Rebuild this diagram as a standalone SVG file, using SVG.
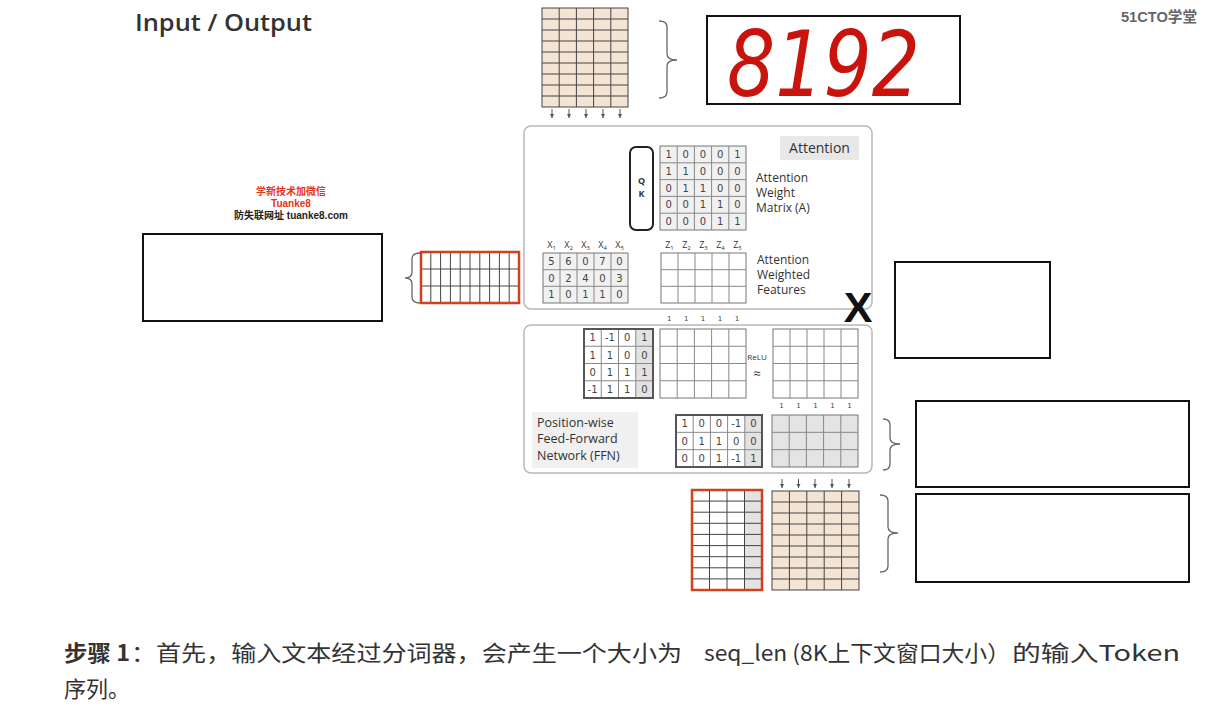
<svg xmlns="http://www.w3.org/2000/svg" width="1211" height="709" viewBox="0 0 1211 709">
<style>
.g{fill:none;stroke:#444;stroke-width:1}
.lbl{font-family:"Open Sans","DejaVu Sans",sans-serif;fill:#333}
.num{font-family:"DejaVu Sans",sans-serif;font-size:10px;fill:#444;text-anchor:middle}
.one{font-family:"DejaVu Sans",sans-serif;font-size:7px;fill:#444;text-anchor:middle}
.box{fill:#fff;stroke:#111;stroke-width:2}
.br{fill:none;stroke:#666;stroke-width:1.3}
.panel{fill:#fff;stroke:#b8b8b8;stroke-width:1.5}
.arr{stroke:#555;stroke-width:1;marker-end:url(#ah)}
.mat{fill:#f1f1f1;stroke:#777;stroke-width:1}
.emp{fill:#fff;stroke:#777;stroke-width:1}
.gl{fill:none;stroke:#888;stroke-width:1}
.red{fill:none;stroke:#d2401f;stroke-width:2.5}
.cn{font-family:"Noto Sans CJK SC",sans-serif;fill:#333}
</style>
<defs>
<marker id="ah" viewBox="0 0 6 6" refX="5" refY="3" markerWidth="5" markerHeight="5" orient="auto">
<path d="M0,0.5 L5,3 L0,5.5 Z" fill="#555"/>
</marker>
</defs>
<rect width="1211" height="709" fill="#fff"/>

<g id="title">
<text x="135" y="31" class="lbl" font-size="23" font-weight="600" fill="#222" textLength="177" lengthAdjust="spacingAndGlyphs">Input / Output</text>
</g>
<g id="logo">
<text x="1121" y="22" font-family="'Liberation Sans','Noto Sans CJK SC',sans-serif" font-size="15" font-weight="bold" fill="#666" textLength="76" lengthAdjust="spacingAndGlyphs">51CTO学堂</text>
</g>

<g id="watermark" font-family="'Liberation Sans','Noto Sans CJK SC',sans-serif" font-size="10" font-weight="bold" text-anchor="middle">
<text x="291" y="195" fill="#e8331c">学新技术加微信</text>
<text x="291" y="207" fill="#e8331c">Tuanke8</text>
<text x="291" y="219" fill="#222">防失联网址 tuanke8.com</text>
</g>

<g id="input-tokens">
<rect x="542" y="8" width="86" height="99" fill="#f3e4d4" stroke="#444"/>
<path class="g" d="M559.2,8V107M576.4,8V107M593.6,8V107M610.8,8V107M542,19H628M542,30H628M542,41H628M542,52H628M542,63H628M542,74H628M542,85H628M542,96H628"/>
</g>
<g id="box-8192">
<rect class="box" x="707" y="16" width="253" height="88"/>
<text x="727" y="96" font-family="'DejaVu Sans',sans-serif" font-style="italic" font-size="90" fill="#c8140c" textLength="193" lengthAdjust="spacingAndGlyphs">8192</text>
</g>

<g id="left-box"><rect class="box" x="143" y="234" width="239" height="87"/></g>
<g id="left-red-grid">
<rect x="421" y="252" width="98" height="51" fill="#fff"/>
<path class="g" d="M430.8,252V303M440.6,252V303M450.4,252V303M460.2,252V303M470,252V303M479.8,252V303M489.6,252V303M499.4,252V303M509.2,252V303M421,269H519M421,286H519"/>
<rect class="red" x="421" y="252" width="98" height="51"/>
</g>

<g id="attention-panel">
<rect class="panel" x="524" y="126" width="348" height="183" rx="7"/>
<rect x="780" y="136" width="79" height="24" fill="#e8e8e8"/>
<text x="819.5" y="153" class="lbl" font-size="14" text-anchor="middle">Attention</text>
</g>
<g id="qk">
<rect x="630" y="147" width="23" height="83" rx="6" fill="#fff" stroke="#222" stroke-width="2"/>
<text x="641.5" y="184" class="lbl" font-size="9" font-weight="bold" text-anchor="middle">Q</text>
<text x="641.5" y="197" class="lbl" font-size="9" font-weight="bold" text-anchor="middle">K</text>
</g>
<g id="matrix-a">
<rect class="mat" x="660" y="146" width="86" height="84"/>
<path class="gl" d="M677.2,146V230M694.4,146V230M711.6,146V230M728.8,146V230M660,162.8H746M660,179.6H746M660,196.4H746M660,213.2H746"/>
<g class="num">
<text x="668.6" y="158">1</text><text x="685.8" y="158">0</text><text x="703" y="158">0</text><text x="720.2" y="158">0</text><text x="737.4" y="158">1</text>
<text x="668.6" y="174.8">1</text><text x="685.8" y="174.8">1</text><text x="703" y="174.8">0</text><text x="720.2" y="174.8">0</text><text x="737.4" y="174.8">0</text>
<text x="668.6" y="191.6">0</text><text x="685.8" y="191.6">1</text><text x="703" y="191.6">1</text><text x="720.2" y="191.6">0</text><text x="737.4" y="191.6">0</text>
<text x="668.6" y="208.4">0</text><text x="685.8" y="208.4">0</text><text x="703" y="208.4">1</text><text x="720.2" y="208.4">1</text><text x="737.4" y="208.4">0</text>
<text x="668.6" y="225.2">0</text><text x="685.8" y="225.2">0</text><text x="703" y="225.2">0</text><text x="720.2" y="225.2">1</text><text x="737.4" y="225.2">1</text>
</g>
<g class="lbl" font-size="12"><text x="756" y="182">Attention</text><text x="756" y="197">Weight</text><text x="756" y="212">Matrix (A)</text></g>
</g>
<g id="matrix-x">
<g class="lbl" font-size="9" text-anchor="middle">
<text x="551.5" y="248">X<tspan font-size="6" dy="2">1</tspan></text>
<text x="568.5" y="248">X<tspan font-size="6" dy="2">2</tspan></text>
<text x="585.5" y="248">X<tspan font-size="6" dy="2">3</tspan></text>
<text x="602.5" y="248">X<tspan font-size="6" dy="2">4</tspan></text>
<text x="619.5" y="248">X<tspan font-size="6" dy="2">5</tspan></text>
</g>
<rect class="mat" x="543" y="253" width="85" height="50"/>
<path class="gl" d="M560,253V303M577,253V303M594,253V303M611,253V303M543,269.7H628M543,286.3H628"/>
<g class="num">
<text x="551.5" y="265">5</text><text x="568.5" y="265">6</text><text x="585.5" y="265">0</text><text x="602.5" y="265">7</text><text x="619.5" y="265">0</text>
<text x="551.5" y="281.7">0</text><text x="568.5" y="281.7">2</text><text x="585.5" y="281.7">4</text><text x="602.5" y="281.7">0</text><text x="619.5" y="281.7">3</text>
<text x="551.5" y="298.4">1</text><text x="568.5" y="298.4">0</text><text x="585.5" y="298.4">1</text><text x="602.5" y="298.4">1</text><text x="619.5" y="298.4">0</text>
</g>
</g>
<g id="matrix-z">
<g class="lbl" font-size="9" text-anchor="middle">
<text x="669.5" y="248">Z<tspan font-size="6" dy="2">1</tspan></text>
<text x="686.5" y="248">Z<tspan font-size="6" dy="2">2</tspan></text>
<text x="703.5" y="248">Z<tspan font-size="6" dy="2">3</tspan></text>
<text x="720.5" y="248">Z<tspan font-size="6" dy="2">4</tspan></text>
<text x="737.5" y="248">Z<tspan font-size="6" dy="2">5</tspan></text>
</g>
<rect class="emp" x="661" y="253" width="85" height="50"/>
<path class="gl" d="M678,253V303M695,253V303M712,253V303M729,253V303M661,269.7H746M661,286.3H746"/>
<g class="lbl" font-size="12"><text x="757" y="264">Attention</text><text x="757" y="279">Weighted</text><text x="757" y="294">Features</text></g>
</g>
<g id="times">
<text x="858" y="322" font-family="'Liberation Sans',sans-serif" font-size="43" font-weight="bold" fill="#111" text-anchor="middle">X</text>
</g>
<g id="ones-1" class="one">
<text x="669.3" y="321">1</text><text x="686.3" y="321">1</text><text x="703" y="321">1</text><text x="720" y="321">1</text><text x="737" y="321">1</text>
</g>

<g id="ffn-panel">
<rect class="panel" x="524" y="325" width="348" height="148" rx="7"/>
<rect x="532" y="412" width="106" height="56" fill="#f0f0f0"/>
<g class="lbl" font-size="12.5"><text x="537" y="427">Position-wise</text><text x="537" y="443">Feed-Forward</text><text x="537" y="460">Network (FFN)</text></g>
</g>
<g id="w1">
<rect x="584" y="329" width="69" height="69" fill="#fff"/>
<rect x="635.75" y="329" width="17.25" height="69" fill="#e2e2e2"/>
<path class="gl" d="M601.25,329V398M618.5,329V398M635.75,329V398M584,346.25H653M584,363.5H653M584,380.75H653"/>
<rect x="584" y="329" width="69" height="69" fill="none" stroke="#555" stroke-width="2"/>
<g class="num">
<text x="592.6" y="341.2">1</text><text x="609.9" y="341.2">-1</text><text x="627.1" y="341.2">0</text><text x="644.4" y="341.2">1</text>
<text x="592.6" y="358.5">1</text><text x="609.9" y="358.5">1</text><text x="627.1" y="358.5">0</text><text x="644.4" y="358.5">0</text>
<text x="592.6" y="375.7">0</text><text x="609.9" y="375.7">1</text><text x="627.1" y="375.7">1</text><text x="644.4" y="375.7">1</text>
<text x="592.6" y="393">-1</text><text x="609.9" y="393">1</text><text x="627.1" y="393">1</text><text x="644.4" y="393">0</text>
</g>
</g>
<g id="hidden">
<rect class="emp" x="660" y="329" width="86" height="69"/>
<path class="gl" d="M677.2,329V398M694.4,329V398M711.6,329V398M728.8,329V398M660,346.25H746M660,363.5H746M660,380.75H746"/>
</g>
<g id="relu">
<text x="757" y="359.5" class="lbl" font-size="8" text-anchor="middle">ReLU</text>
<text x="757" y="378" class="lbl" font-size="13" text-anchor="middle">≈</text>
</g>
<g id="hidden-relu">
<rect class="emp" x="773" y="329" width="85" height="69"/>
<path class="gl" d="M790,329V398M807,329V398M824,329V398M841,329V398M773,346.25H858M773,363.5H858M773,380.75H858"/>
</g>
<g id="ones-2" class="one">
<text x="781.5" y="408">1</text><text x="798.5" y="408">1</text><text x="815.5" y="408">1</text><text x="832.5" y="408">1</text><text x="849.5" y="408">1</text>
</g>
<g id="w2">
<rect x="676" y="415" width="86" height="52" fill="#fff"/>
<rect x="744.8" y="415" width="17.2" height="52" fill="#e2e2e2"/>
<path class="gl" d="M693.2,415V467M710.4,415V467M727.6,415V467M744.8,415V467M676,432.33H762M676,449.67H762"/>
<rect x="676" y="415" width="86" height="52" fill="none" stroke="#555" stroke-width="2"/>
<g class="num">
<text x="684.6" y="427.3">1</text><text x="701.8" y="427.3">0</text><text x="719" y="427.3">0</text><text x="736.2" y="427.3">-1</text><text x="753.4" y="427.3">0</text>
<text x="684.6" y="444.6">0</text><text x="701.8" y="444.6">1</text><text x="719" y="444.6">1</text><text x="736.2" y="444.6">0</text><text x="753.4" y="444.6">0</text>
<text x="684.6" y="461.9">0</text><text x="701.8" y="461.9">0</text><text x="719" y="461.9">1</text><text x="736.2" y="461.9">-1</text><text x="753.4" y="461.9">1</text>
</g>
</g>
<g id="ffn-out">
<rect x="772" y="415" width="86" height="52" fill="#e4e4e4" stroke="#777"/>
<path class="gl" d="M789.2,415V467M806.4,415V467M823.6,415V467M840.8,415V467M772,432.33H858M772,449.67H858"/>
</g>

<g id="right-box-1"><rect class="box" x="895" y="262" width="155" height="96"/></g>
<g id="right-box-2"><rect class="box" x="916" y="401" width="273" height="86"/></g>
<g id="right-box-3"><rect class="box" x="916" y="494" width="273" height="88"/></g>

<g id="bottom-red-grid">
<rect x="692" y="490" width="70" height="100" fill="#fff"/>
<rect x="744.5" y="490" width="17.5" height="100" fill="#e3e3e3"/>
<path class="g" d="M709.5,490V590M727,490V590M744.5,490V590M692,501.1H762M692,512.2H762M692,523.3H762M692,534.4H762M692,545.6H762M692,556.7H762M692,567.8H762M692,578.9H762"/>
<rect class="red" x="692" y="490" width="70" height="100"/>
</g>
<g id="output-tokens">
<rect x="772" y="491" width="87" height="99" fill="#f3e4d4" stroke="#444"/>
<path class="g" d="M789.4,491V590M806.8,491V590M824.2,491V590M841.6,491V590M772,502H859M772,513H859M772,524H859M772,535H859M772,546H859M772,557H859M772,568H859M772,579H859"/>
</g>

<g id="connectors">
<line class="arr" x1="552" y1="109" x2="552" y2="118"/>
<line class="arr" x1="569" y1="109" x2="569" y2="118"/>
<line class="arr" x1="586" y1="109" x2="586" y2="118"/>
<line class="arr" x1="603" y1="109" x2="603" y2="118"/>
<line class="arr" x1="620" y1="109" x2="620" y2="118"/>
<line class="arr" x1="782" y1="479" x2="782" y2="488"/>
<line class="arr" x1="798.5" y1="479" x2="798.5" y2="488"/>
<line class="arr" x1="815" y1="479" x2="815" y2="488"/>
<line class="arr" x1="832" y1="479" x2="832" y2="488"/>
<line class="arr" x1="849" y1="479" x2="849" y2="488"/>
<path class="br" d="M659,21Q667,21 667,27V54Q667,60 677,60Q667,60 667,66V92Q667,98 659,98"/>
<path class="br" d="M420,253Q412,253 412,259V272Q412,278 405,278Q412,278 412,284V297Q412,303 420,303"/>
<path class="br" d="M883,419Q890,419 890,425V438Q890,444 900,444Q890,444 890,450V464Q890,470 883,470"/>
<path class="br" d="M880,495Q888,495 888,501V527Q888,533 898,533Q888,533 888,539V566Q888,572 880,572"/>
</g>

<g id="caption" font-size="22">
<text x="64" y="661" class="cn" font-weight="bold" textLength="66" lengthAdjust="spacingAndGlyphs">步骤 1</text>
<text x="131" y="661" class="cn" textLength="551" lengthAdjust="spacingAndGlyphs">：首先，输入文本经过分词器，会产生一个大小为</text>
<text x="704" y="661" class="cn" textLength="306" lengthAdjust="spacingAndGlyphs">seq_len (8K上下文窗口大小）</text>
<text x="1012" y="661" class="cn" textLength="168" lengthAdjust="spacingAndGlyphs">的输入Token</text>
<text x="64" y="697" class="cn">序列。</text>
</g>
</svg>
